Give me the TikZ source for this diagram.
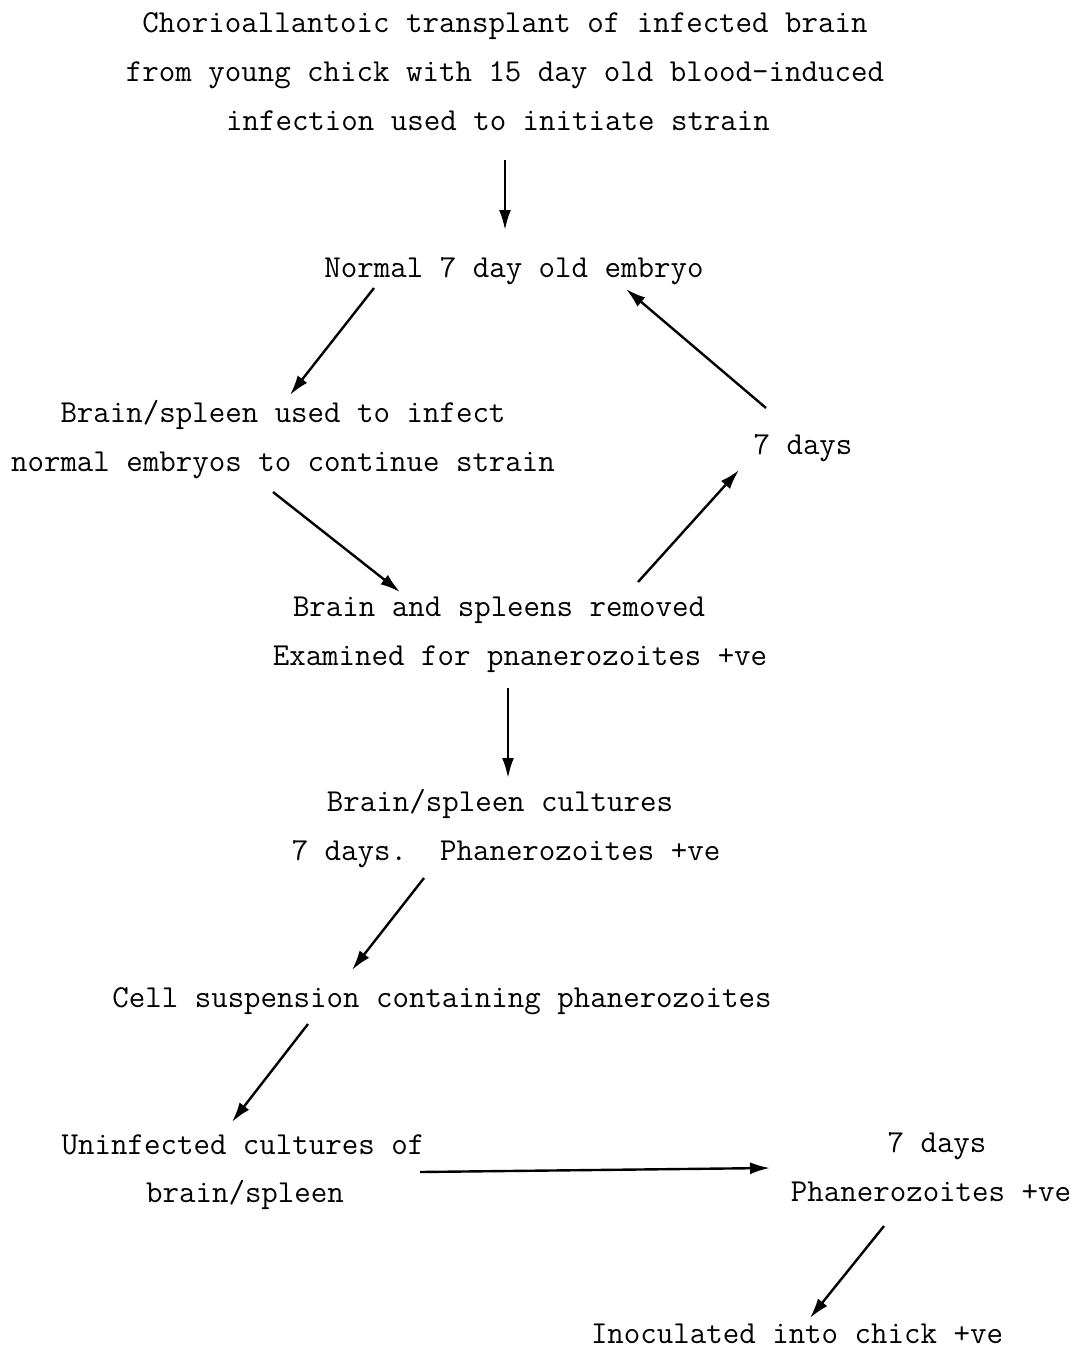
\documentclass[tikz,border=0pt]{standalone}
\usetikzlibrary{arrows.meta,calc}
\begin{document}
\begin{tikzpicture}[
        x=0.5pt, y=-0.5pt,
        every node/.style={anchor=base, inner sep=0pt, font=\ttfamily\fontsize{16}{24}\selectfont},
        arr/.style={draw, line width=1.2pt, -{Latex[length=10pt,width=6pt]}},
    ]
    \useasboundingbox (0,0) rectangle (1075,1351);
    % text
    \node (src1) at (505,32) {Chorioallantoic transplant of infected brain};
    \node (src2) at (505,81) {from young chick with 15 day old blood-induced};
    \node (src3) at (498,130) {infection used to initiate strain};
    \node (embryo) at (514,277) {Normal 7 day old embryo};
    \node (used1) at (283,422) {Brain/spleen used to infect};
    \node (used2) at (283,471) {normal embryos to continue strain};
    \node (days1) at (803,454) {7 days};
    \node (removed) at (499,616) {Brain and spleens removed};
    \node (examined) at (520,665) {Examined for pnanerozoites +ve};
    \node (cult1) at (500,811) {Brain/spleen cultures};
    \node (cult2) at (506,860) {7 days.\ \ Phanerozoites +ve};
    \node (cellsusp) at (442,1007) {Cell suspension containing phanerozoites};
    \node (uninf1) at (243,1154) {Uninfected cultures of};
    \node (uninf2) at (245,1202) {brain/spleen};
    \node (days2) at (937,1152) {7 days};
    \node (phan2) at (931,1201) {Phanerozoites +ve};
    \node (inoc) at (797,1343) {Inoculated into chick +ve};
    % arrows
    \draw[arr] ($(src3.base)+(7,30)$) -- ($(embryo.base)+(-9,-47)$);
    \draw[arr] ($(embryo.base)+(-140,11)$) -- ($(used1.base)+(7,-27)$);
    \draw[arr] ($(days1.base)+(-37,-46)$) -- ($(embryo.base)+(112,12)$);
    \draw[arr] ($(used2.base)+(-10,21)$) -- ($(removed.base)+(-99,-24)$);
    \draw[arr] ($(removed.base)+(139,-34)$) -- ($(days1.base)+(-64,16)$);
    \draw[arr] ($(examined.base)+(-12,23)$) -- ($(cult1.base)+(8,-33)$);
    \draw[arr] ($(cult2.base)+(-82,18)$) -- ($(cellsusp.base)+(-90,-37)$);
    \draw[arr] ($(cellsusp.base)+(-134,17)$) -- ($(uninf1.base)+(-11,-32)$);
    \draw[arr] ($(uninf1.base)+(177,18)$) -- ($(days2.base)+(-167,16)$);
    \draw[arr] ($(phan2.base)+(-47,25)$) -- ($(inoc.base)+(13,-25)$);
\end{tikzpicture}
\end{document}
